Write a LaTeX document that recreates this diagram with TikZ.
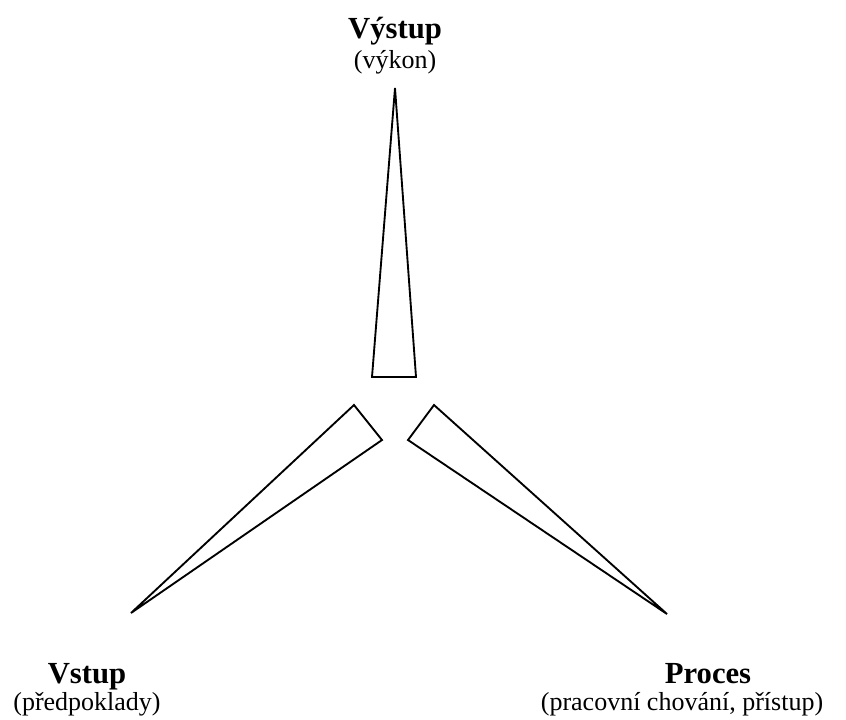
\documentclass[tikz,border=0pt]{standalone}
\usepackage{fontspec}
\setmainfont{Liberation Serif}
\tikzset{
  title/.style={anchor=base, inner sep=0pt, font=\fontsize{23}{27}\selectfont\bfseries},
  subtitle/.style={anchor=base, inner sep=0pt, font=\fontsize{19.5}{23}\selectfont},
  wedge/.style={draw, line width=1.4pt, line join=miter}
}
\begin{document}
\begin{tikzpicture}[x=0.75pt, y=-0.75pt]
  \useasboundingbox (0,0) rectangle (846,719);
  % top wedge: Vystup
  \draw[wedge] (395,88) -- (416,377) -- (372,377) -- cycle;
  % left wedge: Vstup
  \draw[wedge] (131,613) -- (354,405) -- (382,440) -- cycle;
  % right wedge: Proces
  \draw[wedge] (667,614) -- (434,405) -- (408,440) -- cycle;
  \node[title] (vystup) at (395,38) {Výstup};
  \node[subtitle] (vykon) at (395,68) {(výkon)};
  \node[title] (vstup) at (87,683) {Vstup};
  \node[subtitle] (predpoklady) at (87,710) {(předpoklady)};
  \node[title] (proces) at (708,683) {Proces};
  \node[subtitle] (chovani) at (682,710) {(pracovní chování, přístup)};
\end{tikzpicture}
\end{document}
